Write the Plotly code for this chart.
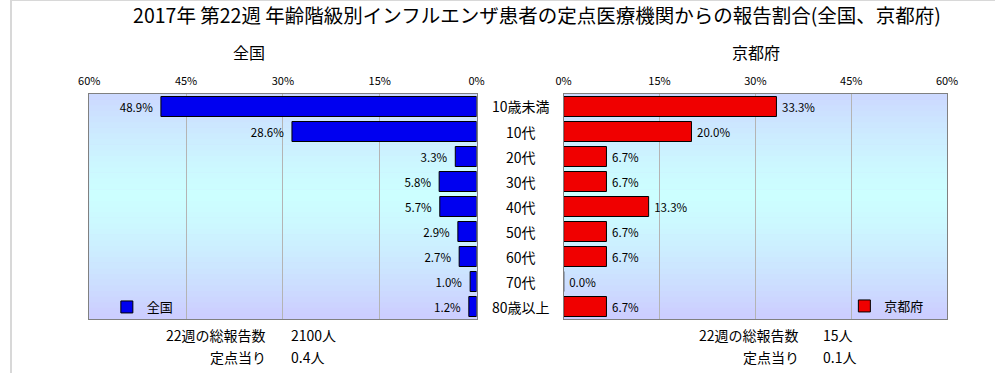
import plotly.graph_objects as go

# ---- data ----
categories = ['10歳未満', '10代', '20代', '30代', '40代', '50代', '60代', '70代', '80歳以上']
national = [48.9, 28.6, 3.3, 5.8, 5.7, 2.9, 2.7, 1.0, 1.2]
kyoto = [33.3, 20.0, 6.7, 6.7, 13.3, 6.7, 6.7, 0.0, 6.7]
tick_vals = [0, 15, 30, 45, 60]
tick_text = ['0%', '15%', '30%', '45%', '60%']
series_names = ['全国', '京都府']
summary_labels = ['22週の総報告数', '定点当り']
national_summary = ['2100人', '0.4人']
kyoto_summary = ['15人', '0.1人']
title_text = '2017年 第22週 年齢階級別インフルエンザ患者の定点医療機関からの報告割合(全国、京都府)'

W, H = 1006, 373
FONT = 'Noto Sans CJK JP'

def px(x):
    return x / W

def py(y):
    return 1 - y / H

fig = go.Figure()

fig.add_trace(go.Bar(
    y=categories, x=national, orientation='h', name=series_names[0],
    xaxis='x', yaxis='y', width=0.8,
    marker=dict(color='#0000f0', line=dict(color='#000000', width=1)),
    texttemplate='%{x:.1f}%\u00a0\u00a0', textposition='outside', cliponaxis=False,
    constraintext='none',
    outsidetextfont=dict(family=FONT, size=11.5, color='#000000'),
    legend='legend',
))
fig.add_trace(go.Bar(
    y=categories, x=kyoto, orientation='h', name=series_names[1],
    xaxis='x2', yaxis='y2', width=0.8,
    marker=dict(color='#f00000', line=dict(color='#000000', width=1)),
    texttemplate='\u00a0%{x:.1f}%', textposition='outside', cliponaxis=False,
    constraintext='none',
    outsidetextfont=dict(family=FONT, size=11.5, color='#000000'),
    legend='legend2',
))

ydom = [py(319), py(94)]
common_x = dict(
    tickvals=tick_vals, ticktext=tick_text, side='top', showgrid=True,
    gridcolor='#b4b4b4', gridwidth=1, zeroline=False, showline=True,
    linecolor='#808080', linewidth=1, mirror=True, ticks='',
    tickfont=dict(family=FONT, size=11, color='#000000'), ticklabelstandoff=4,
    fixedrange=True,
)
common_y = dict(
    domain=ydom, categoryorder='array', categoryarray=categories,
    range=[8.5, -0.5], showticklabels=False, showgrid=False, zeroline=False,
    showline=True, linecolor='#808080', linewidth=1, mirror=True, ticks='',
)

fig.update_layout(
    width=W, height=H, autosize=False,
    margin=dict(l=0, r=0, t=0, b=0),
    paper_bgcolor='#ffffff', plot_bgcolor='#ccccff',
    font=dict(family=FONT, color='#000000'),
    barmode='overlay', bargap=0.2,
    xaxis=dict(domain=[px(80), px(476)], range=[60, 0], anchor='y', **common_x),
    yaxis=dict(anchor='x', **common_y),
    xaxis2=dict(domain=[px(565), px(957)], range=[0, 60], anchor='y2', **common_x),
    yaxis2=dict(anchor='x2', **common_y),
    title=dict(text=title_text, x=px(537), xanchor='center', y=py(16), yanchor='middle',
               font=dict(family=FONT, size=19.5, color='#000000')),
    legend=dict(x=px(98), xanchor='left', y=py(307), yanchor='middle',
                bgcolor='rgba(0,0,0,0)', font=dict(family=FONT, size=13),
                itemwidth=30, tracegroupgap=0),
    legend2=dict(x=px(852), xanchor='left', y=py(306), yanchor='middle',
                 bgcolor='rgba(0,0,0,0)', font=dict(family=FONT, size=13),
                 itemwidth=30, tracegroupgap=0),
    showlegend=True,
)

# gradient background (lavender -> light cyan -> lavender)
def lerp(c1, c2, t):
    return tuple(round(a + (b - a) * t) for a, b in zip(c1, c2))

lav = (204, 204, 255)
cyan = (204, 255, 255)
N = 40
shapes = []
for xr, yr in [('x domain', 'y domain'), ('x2 domain', 'y2 domain')]:
    for i in range(N):
        y0 = i / N
        y1 = (i + 1) / N
        mid = (y0 + y1) / 2
        d = abs(mid - 0.55) / 0.55
        d = min(d, 1.0)
        c = lerp(cyan, lav, d ** 1.3)
        shapes.append(dict(type='rect', xref=xr, yref=yr, x0=0, x1=1, y0=y0, y1=y1 + 0.002,
                           fillcolor='rgb(%d,%d,%d)' % c, line=dict(width=0), layer='below'))
# thin frame lines on top and left edges of the image
shapes.append(dict(type='line', xref='paper', yref='paper', x0=0, x1=1, y0=1, y1=1,
                   line=dict(color='#d8d8d8', width=2)))
shapes.append(dict(type='line', xref='paper', yref='paper', x0=0, x1=0, y0=0, y1=1,
                   line=dict(color='#d8d8d8', width=2)))
fig.update_layout(shapes=shapes)

ann = []
ann.append(dict(text=series_names[0], x=px(243), y=py(52), xref='paper', yref='paper',
                showarrow=False, xanchor='center', yanchor='middle', font=dict(family=FONT, size=16)))
ann.append(dict(text=series_names[1], x=px(762), y=py(52), xref='paper', yref='paper',
                showarrow=False, xanchor='center', yanchor='middle', font=dict(family=FONT, size=16)))
for c in categories:
    ann.append(dict(text=c, x=px(521), y=c, xref='paper', yref='y', showarrow=False,
                    xanchor='center', yanchor='middle', font=dict(family=FONT, size=14)))
for i, lab in enumerate(summary_labels):
    yy = py(335 + 22 * i)
    ann.append(dict(text=lab, x=px(263), y=yy, xref='paper', yref='paper', showarrow=False,
                    xanchor='right', yanchor='middle', font=dict(family=FONT, size=14)))
    ann.append(dict(text=national_summary[i], x=px(284), y=yy, xref='paper', yref='paper',
                    showarrow=False, xanchor='left', yanchor='middle', font=dict(family=FONT, size=14)))
    ann.append(dict(text=lab, x=px(808), y=yy, xref='paper', yref='paper', showarrow=False,
                    xanchor='right', yanchor='middle', font=dict(family=FONT, size=14)))
    ann.append(dict(text=kyoto_summary[i], x=px(828), y=yy, xref='paper', yref='paper',
                    showarrow=False, xanchor='left', yanchor='middle', font=dict(family=FONT, size=14)))
fig.update_layout(annotations=ann)

fig.write_html('out.html', config={'displayModeBar': False},
               post_script="document.body.style.margin='0';document.body.style.overflow='hidden';")
